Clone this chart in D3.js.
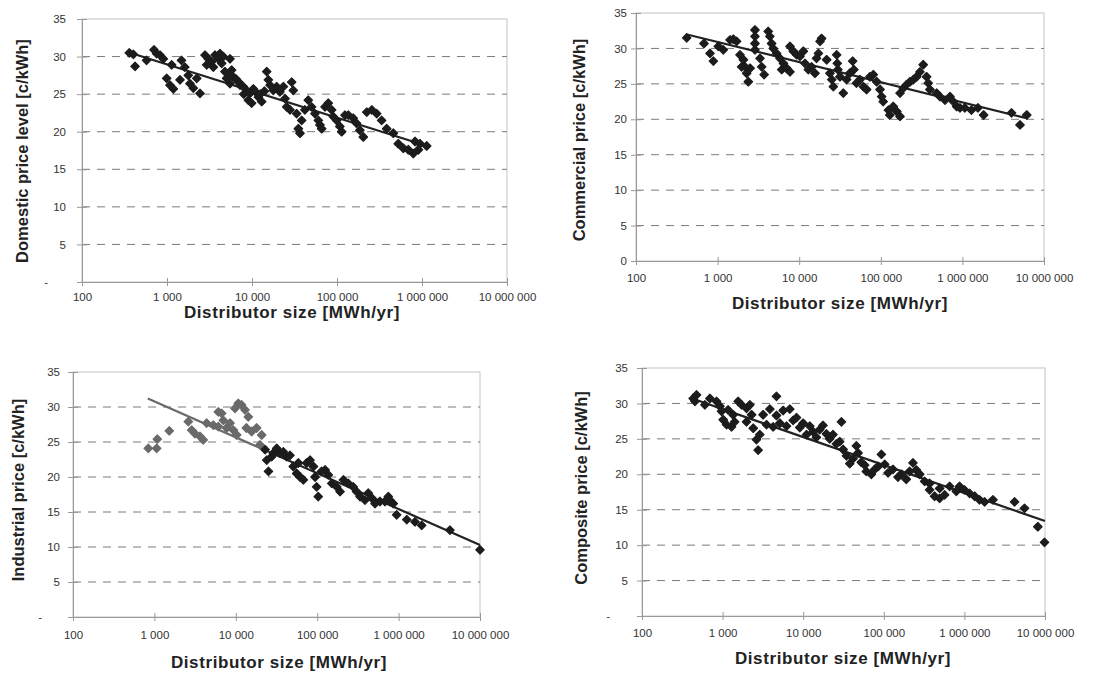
<!DOCTYPE html>
<html><head><meta charset="utf-8">
<script src="https://cdn.jsdelivr.net/npm/d3@7"></script>
<style>
body{margin:0;background:#fff}
svg{display:block}
text{font-family:"Liberation Sans",Arial,sans-serif}
</style>
</head><body>
<svg id="c" width="1101" height="674"></svg>
<script>
// ---------- tick data ----------
const xTickValues = [100, 1000, 10000, 100000, 1000000, 10000000];
const xTickLabels = ["100", "1 000", "10 000", "100 000", "1 000 000", "10 000 000"];
const yTickValues = [0, 5, 10, 15, 20, 25, 30, 35];
const yTickLabelsDash = ["-", "5", "10", "15", "20", "25", "30", "35"];
const yTickLabelsZero = ["0", "5", "10", "15", "20", "25", "30", "35"];
const gridValues = [5, 10, 15, 20, 25, 30];
const xTitle = "Distributor size [MWh/yr]";

// ---------- series: [distributor size MWh/yr, price c/kWh] ----------
const domesticPoints = [
 [360,30.5],[402,30.3],[421,28.7],[575,29.5],[703,30.9],[755,30.4],[828,30.2],[906,29.7],
 [991,27.1],[1084,26.2],[1188,25.7],[1135,28.9],[1480,29.5],[1620,28.6],[1422,26.9],[1862,26.4],
 [2040,25.8],[2443,25.1],[1780,27.5],[2240,27.1],
 [2800,30.2],[3060,29.7],[3350,29.3],[3670,30.2],[4020,29.7],[4200,30.4],[4400,29.1],[3510,28.6],[2930,28.9],[4600,30.0],
 [5510,29.7],[5760,28.2],[6020,27.3],[5020,27.1],[5510,26.4],[4800,28.0],[5300,27.6],[6500,27.0],[7000,26.6],
 [7230,26.2],[8650,25.5],[9460,25.1],[10370,25.7],[9050,24.2],[9900,23.8],[7900,26.0],[8000,25.0],
 [11000,25.3],[11900,24.6],[12500,25.0],[13000,24.0],[14000,25.4],[14900,28.0],[15570,26.9],[16300,26.2],
 [17800,25.5],[19500,26.0],[21300,25.3],[23400,26.0],[24500,24.4],[25600,23.3],[28000,22.9],[29300,26.6],
 [30600,25.5],[33500,22.4],[35100,20.4],[36700,19.8],[38400,21.5],[41900,22.9],[45900,24.2],[50200,23.3],
 [55000,22.4],[60300,21.5],[63000,20.9],[66000,20.4],[72300,23.3],[79000,23.8],[86500,22.9],[90500,22.0],
 [99000,21.5],[108000,20.7],[113500,20.0],[124000,22.2],[136000,22.2],[155000,21.8],[170000,21.1],[186000,20.2],
 [204000,19.3],[224000,22.6],[257000,22.9],[293000,22.4],[335000,21.5],[384000,20.4],[460000,19.8],[526000,18.4],
 [603000,17.8],[690000,17.6],[790000,17.1],[906000,17.6],[828000,18.7],[946000,18.4],[1135000,18.1]
];
const domesticTrendSize = [367, 1150000];
const domesticTrendPrice = [30.5, 18.1];

const commercialPoints = [
 [418,31.5],[681,30.7],[807,29.3],[887,28.2],[1020,30.3],[1175,29.8],[1420,31.2],[1560,31.3],[1710,31.0],
 [1880,29.1],[2070,28.4],[2170,27.4],[2270,26.5],[2380,25.3],[1970,27.4],[2500,27.2],
 [2870,32.6],[2870,31.7],[2870,30.7],[2870,29.8],[3310,28.6],[3470,27.4],[3720,26.3],
 [4170,32.4],[4370,31.7],[4590,30.7],[4800,30.0],[5280,29.3],[5820,28.6],[6400,27.9],[6100,27.0],
 [7020,27.2],[7710,26.7],[7710,30.3],[8470,29.6],[9320,29.1],[10230,28.9],[11230,29.6],
 [11770,27.9],[12940,27.0],[14200,27.4],[15600,26.5],[16300,28.6],[17200,29.3],[18000,31.0],[18800,31.4],
 [21700,28.4],[23800,26.5],[25100,25.6],[26200,24.6],[28800,29.1],[29300,27.9],[29800,27.0],
 [31600,26.0],[34700,23.7],[38100,25.6],[41700,26.5],[45200,28.2],[46800,27.0],[50300,25.1],
 [55600,25.6],[61100,24.6],[67000,24.2],[73700,26.0],[81000,26.3],[89000,25.3],[97800,24.2],
 [102400,23.2],[107000,22.5],[124000,21.3],[129000,20.6],[142000,21.8],[157000,21.1],[172000,20.4],
 [172000,23.7],[189000,24.4],[207000,24.9],[228000,25.3],[251000,25.6],[275000,26.0],[302000,26.7],[331000,27.7],
 [364000,26.0],[382000,25.1],[400000,24.2],[484000,23.7],[531000,23.2],[612000,22.7],[705000,23.2],
 [776000,22.5],[851000,21.8],[934000,21.6],[1070000,21.6],[1290000,21.3],[1550000,21.6],[1820000,20.6],
 [4000000,20.9],[5080000,19.2],[6150000,20.6]
];
const commercialTrendSize = [410, 5900000];
const commercialTrendPrice = [32.0, 20.2];

const industrialPoints = [
 [841,24.1],[1066,24.1],[1086,25.4],[1524,26.6],[2610,27.9],[2870,26.7],[3150,26.2],[3630,25.8],[3980,25.3],
 [4380,27.7],[5290,27.4],[6100,27.2],[6100,29.3],[6700,29.1],[7030,28.1],[7720,27.0],[8500,27.7],
 [9330,26.7],[10240,26.0],[9770,29.8],[10720,30.5],[11770,30.3],[12970,29.6],[14250,28.6],
 [13500,27.0],[15660,26.5],[18000,27.0],[20800,26.0],[19800,24.6],
 [22900,23.9],[24000,22.4],[25200,20.8],[27600,22.9],[28900,23.4],[31800,24.1],[34900,23.4],[38300,23.6],
 [42100,22.9],[46300,23.1],[50900,21.5],[56000,20.5],[61600,20.0],[58600,22.0],[67600,19.6],
 [74300,22.0],[81700,22.4],[89800,21.5],[94200,20.0],[98400,18.6],[103000,17.2],
 [113000,20.8],[125000,21.0],[137000,20.3],[151000,19.1],[174000,18.6],[191000,17.9],
 [210000,19.6],[241000,19.1],[277000,18.6],[305000,17.9],[336000,17.2],[386000,16.7],[424000,17.7],[467000,17.0],
 [513000,16.2],[590000,16.5],[680000,16.5],[748000,17.2],[783000,16.7],[861000,16.2],[946000,14.6],
 [1260000,13.9],[1590000,13.6],[1920000,13.1],[4270000,12.4],[10000000,9.6]
];
const industrialTrendSize = [830, 10000000];
const industrialTrendPrice = [31.2, 10.3];

const compositePoints = [
 [432,30.7],[475,31.2],[454,30.3],[603,29.8],[696,30.7],[841,30.3],[926,29.6],
 [971,28.9],[1018,27.7],[1120,27.0],[1290,26.7],[1410,27.4],[1170,29.1],[1350,28.4],
 [1560,30.3],[1720,29.8],[1980,29.3],[2180,29.8],[1980,27.4],[2290,28.4],[2400,26.5],[2630,24.9],[2760,23.4],[2890,25.6],
 [3180,28.4],[3510,27.0],[3860,29.2],[4240,26.7],[4660,28.3],[4660,31.0],[5130,27.2],[5640,29.0],
 [6210,26.8],[6820,29.2],[7500,27.6],[8260,28.0],[9080,26.6],[9980,27.2],[11000,25.6],[12070,26.8],
 [13280,26.0],[14600,25.2],[16000,26.3],[17600,26.9],[19400,25.7],[21300,25.0],[23400,25.6],[25800,24.3],
 [28400,24.6],[29800,27.4],[31300,23.5],[34400,22.6],[37800,21.5],[41600,22.2],[45700,24.0],[47900,23.0],
 [52600,21.7],[57900,21.3],[60800,20.4],[70100,20.0],[77100,20.7],[84800,21.1],[93300,22.8],[102600,21.4],
 [113000,20.2],[130000,20.7],[150000,19.6],[165000,20.0],[190000,19.3],[209000,20.4],[230000,21.6],[253000,20.6],
 [279000,20.0],[321000,19.0],[370000,17.8],[427000,16.9],[493000,16.6],[569000,17.1],[370000,18.7],[493000,18.0],
 [656000,18.3],[794000,17.6],[871000,18.3],[1000000,17.8],[1160000,17.3],[1340000,16.9],[1540000,16.4],
 [1780000,16.1],[2260000,16.4],[4190000,16.1],[5570000,15.2],[8150000,12.6],[9860000,10.4]
];
const compositeTrendSize = [394, 10000000];
const compositeTrendPrice = [30.8, 13.4];

// ---------- layout ----------
const panels = [
 {points: domesticPoints, tx: domesticTrendSize, ty: domesticTrendPrice, yTitle: "Domestic price level [c/kWh]",
  yLabels: yTickLabelsDash, x0: 82, x1: 507, yTop: 19, yBot: 282, labPad: 16,
  yTitleX: 22, yTitleY: 151, xLabY: 301, xTitleX: 292, xTitleY: 318},
 {points: commercialPoints, tx: commercialTrendSize, ty: commercialTrendPrice, yTitle: "Commercial price [c/kWh]",
  yLabels: yTickLabelsZero, x0: 636, x1: 1044, yTop: 13, yBot: 261, labPad: 9,
  yTitleX: 579, yTitleY: 140, xLabY: 282, xTitleX: 840, xTitleY: 309},
 {points: industrialPoints, tx: industrialTrendSize, ty: industrialTrendPrice, yTitle: "Industrial price [c/kWh]",
  yLabels: yTickLabelsDash, x0: 73, x1: 480, yTop: 372, yBot: 617, labPad: 13, fadeBelow: 21000,
  yTitleX: 18, yTitleY: 490, xLabY: 639, xTitleX: 279, xTitleY: 668},
 {points: compositePoints, tx: compositeTrendSize, ty: compositeTrendPrice, yTitle: "Composite price [c/kWh]",
  yLabels: yTickLabelsDash, x0: 642, x1: 1045, yTop: 368, yBot: 616, labPad: 14,
  yTitleX: 581, yTitleY: 488, xLabY: 637, xTitleX: 843, xTitleY: 664}
];

const svg = d3.select("#c");
const defs = svg.append("defs");
// square diamond marker (Excel style)
const squareDiamond = {
  draw(ctx, size) {
    const r = Math.sqrt(size / 2);
    ctx.moveTo(0, -r); ctx.lineTo(r, 0); ctx.lineTo(0, r); ctx.lineTo(-r, 0); ctx.closePath();
  }
};
const sym = d3.symbol().type(squareDiamond).size(36);

panels.forEach((p, pi) => {
  const x = d3.scaleLog().domain([100, 10000000]).range([p.x0, p.x1]);
  const y = d3.scaleLinear().domain([0, 35]).range([p.yBot, p.yTop]);
  const g = svg.append("g");

  g.append("rect").attr("x", p.x0).attr("y", p.yTop).attr("width", p.x1 - p.x0).attr("height", p.yBot - p.yTop)
    .attr("fill", "none").attr("stroke", "#c4c4c4").attr("stroke-width", 1);

  g.selectAll(".grid").data(gridValues).join("line")
    .attr("x1", p.x0).attr("x2", p.x1).attr("y1", d => y(d)).attr("y2", d => y(d))
    .attr("stroke", "#7a7a7a").attr("stroke-width", 1).attr("stroke-dasharray", "8,7");

  const xa = g.append("g").attr("transform", `translate(0,${p.yBot})`)
    .call(d3.axisBottom(x).tickValues(xTickValues).tickFormat((d, i) => xTickLabels[i]).tickSizeOuter(0).tickSize(4));
  xa.select(".domain").attr("stroke", "#999");
  xa.selectAll(".tick line").attr("stroke", "#999").attr("y1", -4).attr("y2", 4);
  xa.selectAll(".tick text").attr("y", p.xLabY - p.yBot).attr("dy", 0)
    .attr("font-size", 11.5).attr("fill", "#333").style("font-family", '"Liberation Sans",Arial,sans-serif');

  const ya = g.append("g").attr("transform", `translate(${p.x0},0)`)
    .call(d3.axisLeft(y).tickValues(yTickValues).tickFormat((d, i) => p.yLabels[i]).tickSizeOuter(0).tickSize(4));
  ya.select(".domain").attr("stroke", "#999");
  ya.selectAll(".tick line").attr("stroke", "#999").attr("x1", -5).attr("x2", 5);
  ya.selectAll(".tick text").attr("x", d => -(p.labPad + (d === 0 && p.yLabels[0] === "-" ? 18 : 0)))
    .attr("font-size", 11.5).attr("fill", "#333").style("font-family", '"Liberation Sans",Arial,sans-serif');

  const trend = p.tx.map((s, i) => [s, p.ty[i]]);
  let stroke = "#222";
  if (p.fadeBelow) {
    const gid = "tg" + pi;
    const xs = x(p.fadeBelow), a = x(p.tx[0]), b = x(p.tx[1]);
    const off = (xs - a) / (b - a);
    const lg = defs.append("linearGradient").attr("id", gid).attr("gradientUnits", "userSpaceOnUse")
      .attr("x1", a).attr("x2", b).attr("y1", 0).attr("y2", 0);
    lg.append("stop").attr("offset", 0).attr("stop-color", "#6a6a6a");
    lg.append("stop").attr("offset", off).attr("stop-color", "#6a6a6a");
    lg.append("stop").attr("offset", off + 0.05).attr("stop-color", "#222");
    lg.append("stop").attr("offset", 1).attr("stop-color", "#222");
    stroke = `url(#${gid})`;
  }
  g.append("path").datum(trend)
    .attr("d", d3.line().x(d => x(d[0])).y(d => y(d[1])))
    .attr("fill", "none").attr("stroke", stroke).attr("stroke-width", 2.2);

  g.selectAll(".pt").data(p.points).join("path")
    .attr("d", sym)
    .attr("transform", d => `translate(${x(d[0])},${y(d[1])})`)
    .attr("fill", d => (p.fadeBelow && d[0] < p.fadeBelow) ? "#6a6a6a" : "#1c1c1c")
    .attr("stroke", d => (p.fadeBelow && d[0] < p.fadeBelow) ? "#6a6a6a" : "#1c1c1c")
    .attr("stroke-width", 1.2).attr("stroke-linejoin", "round");

  g.append("text").attr("transform", `translate(${p.yTitleX},${p.yTitleY}) rotate(-90)`)
    .attr("text-anchor", "middle").attr("dominant-baseline", "central")
    .attr("font-size", 16.5).attr("font-weight", "bold").attr("fill", "#222").text(p.yTitle);
  g.append("text").attr("x", p.xTitleX).attr("y", p.xTitleY)
    .attr("text-anchor", "middle").attr("letter-spacing", 0.6)
    .attr("font-size", 17).attr("font-weight", "bold").attr("fill", "#222").text(xTitle);
});
</script>
</body></html>
